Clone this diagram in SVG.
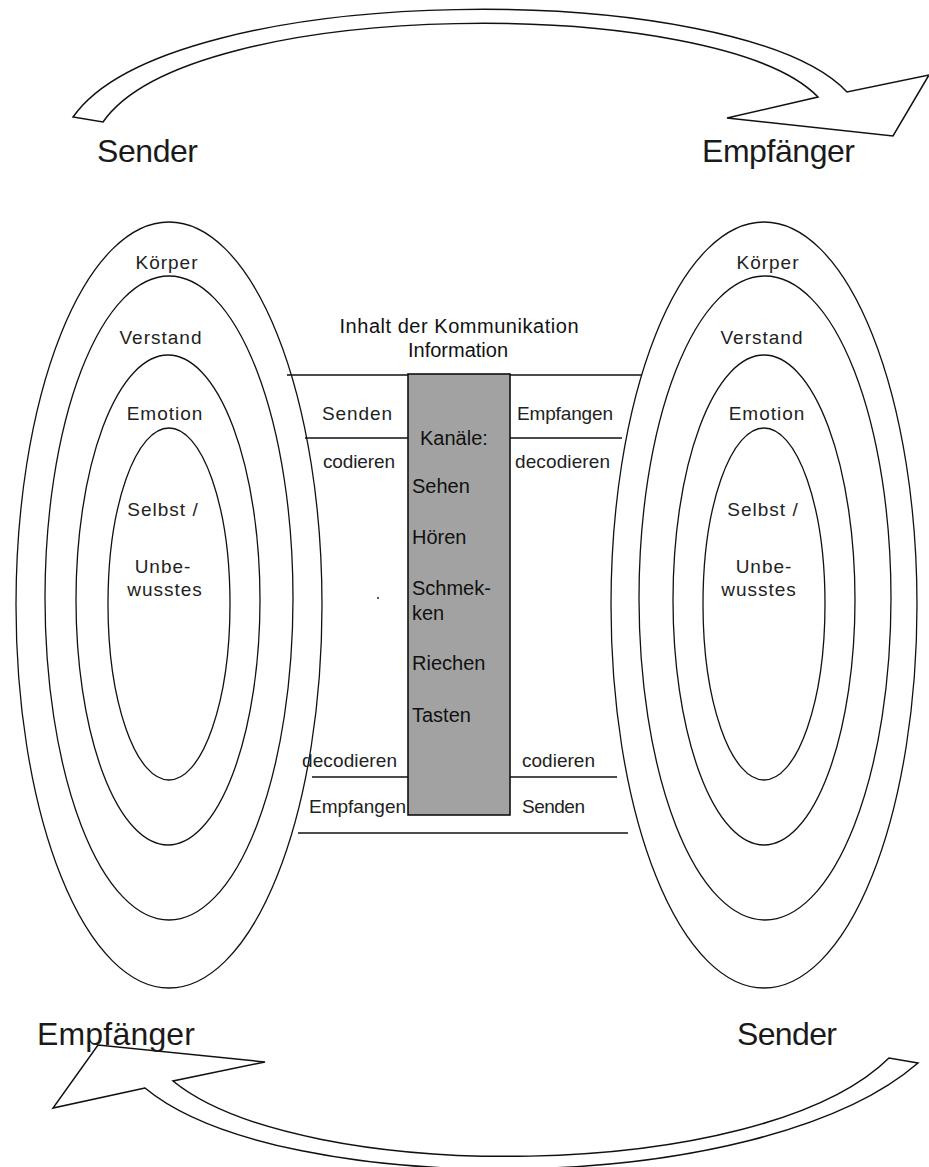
<svg xmlns="http://www.w3.org/2000/svg" width="929" height="1167" viewBox="0 0 929 1167">
<style>
.ell{fill:none;stroke:#111;stroke-width:1.3}
.ln{stroke:#111;stroke-width:1.4;fill:none}
.arr{fill:#fff;stroke:#111;stroke-width:1.5;stroke-linejoin:miter}
.big{font-family:"Liberation Sans",Arial,sans-serif;font-size:32px;fill:#1a1a1a}
.lay{font-family:"Liberation Sans",Arial,sans-serif;font-size:19px;letter-spacing:1px;fill:#222;text-anchor:middle}
.side{font-family:"Liberation Sans",Arial,sans-serif;font-size:19px;fill:#222}
.ch{font-family:"Liberation Sans",Arial,sans-serif;font-size:20px;fill:#111}
.title{font-family:"Liberation Sans",Arial,sans-serif;font-size:20px;fill:#111;text-anchor:middle}
</style>
<rect width="929" height="1167" fill="#fff"/>

<g id="connectors">
  <path id="arrow-top" class="arr" d="M73,117 C170,-22 740,-22 847,92 L929,75 L893,136 L727,118 L818,97 C720,-5 190,-5 103,122 Z"/>
  <path id="arrow-bottom" class="arr" d="M145,1088 L53,1108 L98,1045 L265,1062 L173,1081 C300,1185 760,1185 889,1058 L918,1063 C760,1200 280,1200 145,1088 Z"/>
  <line class="ln" x1="287" y1="375" x2="642" y2="375"/>
  <line class="ln" x1="305" y1="438" x2="408" y2="438"/>
  <line class="ln" x1="510" y1="438" x2="622" y2="438"/>
  <line class="ln" x1="312" y1="777" x2="408" y2="777"/>
  <line class="ln" x1="510" y1="777" x2="617" y2="777"/>
  <line class="ln" x1="298" y1="833" x2="628" y2="833"/>
</g>

<g id="label-sender-top"><text class="big" x="97" y="162" textLength="101">Sender</text></g>
<g id="label-empfaenger-top"><text class="big" x="702" y="162" textLength="153">Empfänger</text></g>
<g id="label-empfaenger-bottom"><text class="big" x="37" y="1045" textLength="158">Empfänger</text></g>
<g id="label-sender-bottom"><text class="big" x="737" y="1045" textLength="100">Sender</text></g>

<g id="person-left">
  <ellipse class="ell" cx="169" cy="605" rx="153" ry="383"/>
  <ellipse class="ell" cx="169" cy="598" rx="124" ry="322"/>
  <ellipse class="ell" cx="168" cy="600" rx="92" ry="245"/>
  <ellipse class="ell" cx="169" cy="604" rx="61" ry="176"/>
  <text class="lay" x="167" y="269">Körper</text>
  <text class="lay" x="161" y="344">Verstand</text>
  <text class="lay" x="165" y="420">Emotion</text>
  <text class="lay" x="163" y="516">Selbst /</text>
  <text class="lay" x="163" y="573">Unbe-</text>
  <text class="lay" x="165" y="596">wusstes</text>
</g>

<g id="person-right">
  <ellipse class="ell" cx="764" cy="605" rx="153" ry="383"/>
  <ellipse class="ell" cx="765" cy="598" rx="126" ry="322"/>
  <ellipse class="ell" cx="764" cy="600" rx="91" ry="245"/>
  <ellipse class="ell" cx="764" cy="604" rx="61" ry="176"/>
  <text class="lay" x="768" y="269">Körper</text>
  <text class="lay" x="762" y="344">Verstand</text>
  <text class="lay" x="767" y="420">Emotion</text>
  <text class="lay" x="763" y="516">Selbst /</text>
  <text class="lay" x="764" y="573">Unbe-</text>
  <text class="lay" x="759" y="596">wusstes</text>
</g>

<g id="content-title">
  <text class="title" x="459" y="333" textLength="239">Inhalt der Kommunikation</text>
  <text class="title" x="458" y="357">Information</text>
</g>

<g id="channels">
  <rect x="408" y="374" width="102" height="441" fill="#a2a2a2" stroke="#111" stroke-width="1.6"/>
  <text class="ch" x="420" y="445">Kanäle:</text>
  <text class="ch" x="412" y="493">Sehen</text>
  <text class="ch" x="412" y="544">Hören</text>
  <text class="ch" x="412" y="595">Schmek-</text>
  <text class="ch" x="412" y="620">ken</text>
  <text class="ch" x="412" y="670">Riechen</text>
  <text class="ch" x="412" y="722">Tasten</text>
</g>

<g id="side-labels">
  <text class="side" x="322" y="420" textLength="70">Senden</text>
  <text class="side" x="517" y="420" textLength="96">Empfangen</text>
  <text class="side" x="323" y="468" textLength="72">codieren</text>
  <text class="side" x="515" y="468" textLength="95">decodieren</text>
  <text class="side" x="302" y="767" textLength="95">decodieren</text>
  <text class="side" x="522" y="767" textLength="73">codieren</text>
  <text class="side" x="309" y="813" textLength="97">Empfangen</text>
  <text class="side" x="522" y="813" textLength="63">Senden</text>
  <circle cx="378" cy="598" r="1" fill="#222"/>
</g>
</svg>
